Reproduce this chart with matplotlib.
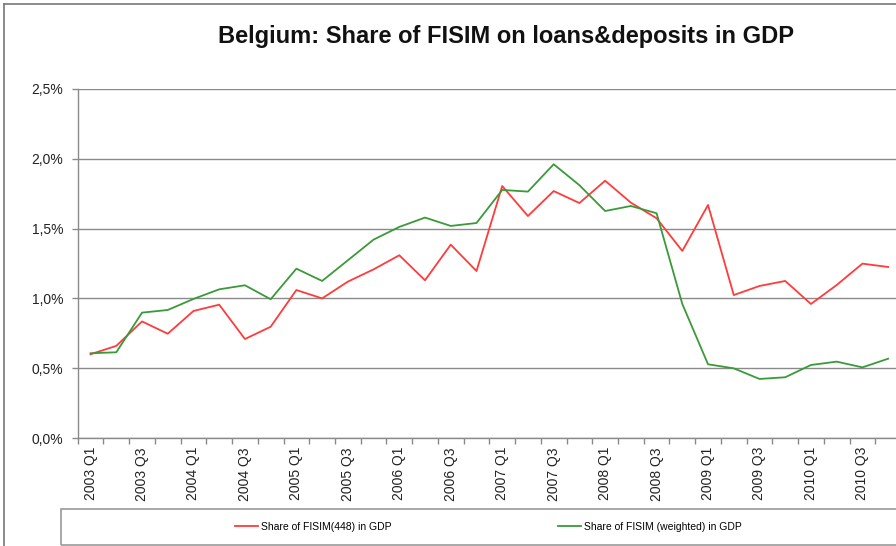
import matplotlib
matplotlib.use("Agg")
import matplotlib.pyplot as plt
import matplotlib.ticker as mticker
from matplotlib.lines import Line2D
from matplotlib.patches import Rectangle
import numpy as np

plt.rcParams['font.family'] = ['Liberation Sans', 'DejaVu Sans']

quarters = [f"{y} Q{q}" for y in range(2003, 2011) for q in range(1, 5)]

fisim_448 = [0.60, 0.66, 0.835, 0.747, 0.91, 0.955, 0.709, 0.797,
             1.06, 1.00, 1.12, 1.208, 1.309, 1.13, 1.385, 1.196,
             1.805, 1.59, 1.769, 1.683, 1.843, 1.686, 1.574, 1.34,
             1.669, 1.024, 1.089, 1.125, 0.96, 1.096, 1.249, 1.225]

fisim_weighted = [0.607, 0.614, 0.898, 0.917, 0.996, 1.065, 1.094, 0.994,
                  1.213, 1.125, 1.273, 1.421, 1.512, 1.579, 1.519, 1.54,
                  1.777, 1.765, 1.961, 1.811, 1.626, 1.662, 1.61, 0.96,
                  0.528, 0.499, 0.423, 0.435, 0.523, 0.547, 0.506, 0.568]

y_ticks = [0.0, 0.5, 1.0, 1.5, 2.0, 2.5]

W, H = 896, 546
fig = plt.figure(figsize=(W / 100, H / 100), dpi=100)
ax = fig.add_axes([77.7 / W, 1 - 438 / H, (901 - 77.7) / W, (438 - 89) / H])

x = np.arange(len(quarters))
grid_c = '#8a8a8a'
for v in y_ticks:
    ax.axhline(v, color=grid_c, lw=1.0, zorder=1)

l1, = ax.plot(x, fisim_448, color='#ff3b3b', lw=1.3, zorder=3,
              label='Share of FISIM(448) in GDP')
l2, = ax.plot(x, fisim_weighted, color='#3a9a3a', lw=1.3, zorder=3,
              label='Share of FISIM (weighted) in GDP')

ax.set_xlim(-0.5, len(quarters) - 0.5)
ax.set_ylim(0, 2.5)

ax.set_yticks(y_ticks)
ax.yaxis.set_major_formatter(mticker.FuncFormatter(
    lambda v, p: f"{v:.1f}".replace('.', ',') + '%'))
ax.tick_params(axis='y', direction='out', length=4, width=1, color=grid_c,
               pad=6.5, labelsize=10, labelcolor='#222222')

ax.set_xticks(np.arange(-0.5, len(quarters), 1.0))
ax.set_xticklabels([])
ax.set_xticks(x[::2], minor=True)
ax.set_xticklabels(quarters[::2], minor=True, rotation=90)
ax.tick_params(axis='x', which='major', direction='out', length=4, width=1,
               color=grid_c)
ax.tick_params(axis='x', which='minor', length=0, pad=6.5, labelsize=10,
               labelcolor='#222222')

for s in ['top', 'right']:
    ax.spines[s].set_visible(False)
for s in ['left', 'bottom']:
    ax.spines[s].set_color(grid_c)
    ax.spines[s].set_linewidth(1.0)

fig.text(506 / W, 1 - 36 / H, 'Belgium: Share of FISIM on loans&deposits in GDP',
         ha='center', va='center', fontsize=17, fontweight='bold', color='#111111')

# legend box
fig.patches.append(Rectangle((61 / W, 1 - 545 / H), (905 - 61) / W, 36 / H,
                             transform=fig.transFigure, fill=False,
                             edgecolor='#9a9a9a', lw=1.2))
fig.legend(handles=[l1, l2], loc='center left',
           bbox_to_anchor=(235 / W, 1 - 527 / H), ncol=2, frameon=False,
           fontsize=7.5, handlelength=2.2, handletextpad=0.3,
           columnspacing=16.0, borderpad=0, borderaxespad=0)

# outer frame
fig.lines.append(Line2D([4 / W, 1], [1 - 4 / H, 1 - 4 / H],
                        transform=fig.transFigure, color='#777777', lw=1.2))
fig.lines.append(Line2D([4 / W, 4 / W], [0, 1 - 4 / H],
                        transform=fig.transFigure, color='#777777', lw=1.2))

fig.savefig('out.png', dpi=100)
